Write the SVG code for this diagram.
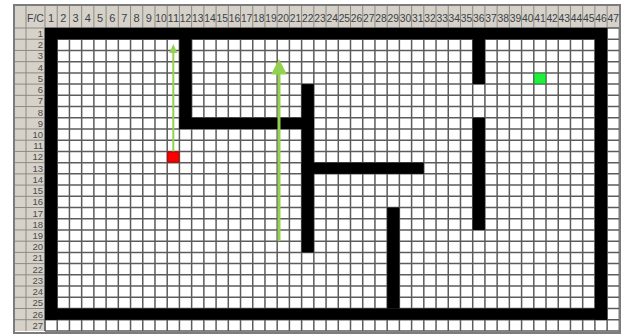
<svg xmlns="http://www.w3.org/2000/svg" width="621" height="336" viewBox="0 0 621 336">
<defs>
<style>
.hdr{fill:#d6d2ca}
.sep{stroke:#8e8a82;stroke-width:1;fill:none}
.grid{stroke:#5c5c5c;stroke-width:1.5;fill:none}
.wall{fill:#000}
.ch{font-family:"Liberation Sans",Arial,sans-serif;font-size:11px;fill:#3a3f48;text-anchor:middle}
.rh{font-family:"Liberation Sans",Arial,sans-serif;font-size:9.5px;fill:#4a4a4a;text-anchor:end}
.arrow{stroke:#92d050;fill:none}
.head{fill:#92d050}
</style>
</defs>
<rect x="0" y="0" width="621" height="336" fill="#ffffff"/>
<g id="header">
<rect class="hdr" x="15" y="6" width="605" height="22"/>
<rect class="hdr" x="15" y="6" width="30" height="325"/>
<path class="sep" d="M26,6V331 M45,6V331 M57.22,6V28 M69.44,6V28 M81.66,6V28 M93.88,6V28 M106.1,6V28 M118.32,6V28 M130.54,6V28 M142.76,6V28 M154.98,6V28 M167.2,6V28 M179.42,6V28 M191.64,6V28 M203.86,6V28 M216.08,6V28 M228.3,6V28 M240.52,6V28 M252.74,6V28 M264.96,6V28 M277.18,6V28 M289.4,6V28 M301.62,6V28 M313.84,6V28 M326.06,6V28 M338.28,6V28 M350.5,6V28 M362.72,6V28 M374.94,6V28 M387.16,6V28 M399.38,6V28 M411.6,6V28 M423.82,6V28 M436.04,6V28 M448.26,6V28 M460.48,6V28 M472.7,6V28 M484.92,6V28 M497.14,6V28 M509.36,6V28 M521.58,6V28 M533.8,6V28 M546.02,6V28 M558.24,6V28 M570.46,6V28 M582.68,6V28 M594.9,6V28 M607.12,6V28 M15,28H45 M15,39.22H45 M15,50.44H45 M15,61.66H45 M15,72.88H45 M15,84.1H45 M15,95.32H45 M15,106.54H45 M15,117.76H45 M15,128.98H45 M15,140.2H45 M15,151.42H45 M15,162.64H45 M15,173.86H45 M15,185.08H45 M15,196.3H45 M15,207.52H45 M15,218.74H45 M15,229.96H45 M15,241.18H45 M15,252.4H45 M15,263.62H45 M15,274.84H45 M15,286.06H45 M15,297.28H45 M15,308.5H45 M15,319.72H45"/>
<text class="ch" x="35.5" y="21.5" textLength="17" lengthAdjust="spacingAndGlyphs">F/C</text>
<text class="ch" x="51.11" y="21.5">1</text>
<text class="ch" x="63.33" y="21.5">2</text>
<text class="ch" x="75.55" y="21.5">3</text>
<text class="ch" x="87.77" y="21.5">4</text>
<text class="ch" x="99.99" y="21.5">5</text>
<text class="ch" x="112.21" y="21.5">6</text>
<text class="ch" x="124.43" y="21.5">7</text>
<text class="ch" x="136.65" y="21.5">8</text>
<text class="ch" x="148.87" y="21.5">9</text>
<g lengthAdjust="spacingAndGlyphs">
<text class="ch" x="161.09" y="21.5" textLength="11.5" lengthAdjust="spacingAndGlyphs">10</text>
<text class="ch" x="173.31" y="21.5" textLength="11.5" lengthAdjust="spacingAndGlyphs">11</text>
<text class="ch" x="185.53" y="21.5" textLength="11.5" lengthAdjust="spacingAndGlyphs">12</text>
<text class="ch" x="197.75" y="21.5" textLength="11.5" lengthAdjust="spacingAndGlyphs">13</text>
<text class="ch" x="209.97" y="21.5" textLength="11.5" lengthAdjust="spacingAndGlyphs">14</text>
<text class="ch" x="222.19" y="21.5" textLength="11.5" lengthAdjust="spacingAndGlyphs">15</text>
<text class="ch" x="234.41" y="21.5" textLength="11.5" lengthAdjust="spacingAndGlyphs">16</text>
<text class="ch" x="246.63" y="21.5" textLength="11.5" lengthAdjust="spacingAndGlyphs">17</text>
<text class="ch" x="258.85" y="21.5" textLength="11.5" lengthAdjust="spacingAndGlyphs">18</text>
<text class="ch" x="271.07" y="21.5" textLength="11.5" lengthAdjust="spacingAndGlyphs">19</text>
<text class="ch" x="283.29" y="21.5" textLength="11.5" lengthAdjust="spacingAndGlyphs">20</text>
<text class="ch" x="295.51" y="21.5" textLength="11.5" lengthAdjust="spacingAndGlyphs">21</text>
<text class="ch" x="307.73" y="21.5" textLength="11.5" lengthAdjust="spacingAndGlyphs">22</text>
<text class="ch" x="319.95" y="21.5" textLength="11.5" lengthAdjust="spacingAndGlyphs">23</text>
<text class="ch" x="332.17" y="21.5" textLength="11.5" lengthAdjust="spacingAndGlyphs">24</text>
<text class="ch" x="344.39" y="21.5" textLength="11.5" lengthAdjust="spacingAndGlyphs">25</text>
<text class="ch" x="356.61" y="21.5" textLength="11.5" lengthAdjust="spacingAndGlyphs">26</text>
<text class="ch" x="368.83" y="21.5" textLength="11.5" lengthAdjust="spacingAndGlyphs">27</text>
<text class="ch" x="381.05" y="21.5" textLength="11.5" lengthAdjust="spacingAndGlyphs">28</text>
<text class="ch" x="393.27" y="21.5" textLength="11.5" lengthAdjust="spacingAndGlyphs">29</text>
<text class="ch" x="405.49" y="21.5" textLength="11.5" lengthAdjust="spacingAndGlyphs">30</text>
<text class="ch" x="417.71" y="21.5" textLength="11.5" lengthAdjust="spacingAndGlyphs">31</text>
<text class="ch" x="429.93" y="21.5" textLength="11.5" lengthAdjust="spacingAndGlyphs">32</text>
<text class="ch" x="442.15" y="21.5" textLength="11.5" lengthAdjust="spacingAndGlyphs">33</text>
<text class="ch" x="454.37" y="21.5" textLength="11.5" lengthAdjust="spacingAndGlyphs">34</text>
<text class="ch" x="466.59" y="21.5" textLength="11.5" lengthAdjust="spacingAndGlyphs">35</text>
<text class="ch" x="478.81" y="21.5" textLength="11.5" lengthAdjust="spacingAndGlyphs">36</text>
<text class="ch" x="491.03" y="21.5" textLength="11.5" lengthAdjust="spacingAndGlyphs">37</text>
<text class="ch" x="503.25" y="21.5" textLength="11.5" lengthAdjust="spacingAndGlyphs">38</text>
<text class="ch" x="515.47" y="21.5" textLength="11.5" lengthAdjust="spacingAndGlyphs">39</text>
<text class="ch" x="527.69" y="21.5" textLength="11.5" lengthAdjust="spacingAndGlyphs">40</text>
<text class="ch" x="539.91" y="21.5" textLength="11.5" lengthAdjust="spacingAndGlyphs">41</text>
<text class="ch" x="552.13" y="21.5" textLength="11.5" lengthAdjust="spacingAndGlyphs">42</text>
<text class="ch" x="564.35" y="21.5" textLength="11.5" lengthAdjust="spacingAndGlyphs">43</text>
<text class="ch" x="576.57" y="21.5" textLength="11.5" lengthAdjust="spacingAndGlyphs">44</text>
<text class="ch" x="588.79" y="21.5" textLength="11.5" lengthAdjust="spacingAndGlyphs">45</text>
<text class="ch" x="601.01" y="21.5" textLength="11.5" lengthAdjust="spacingAndGlyphs">46</text>
<text class="ch" x="613.23" y="21.5" textLength="11.5" lengthAdjust="spacingAndGlyphs">47</text>
</g>
<text class="rh" x="43" y="37">1</text>
<text class="rh" x="43" y="48.2">2</text>
<text class="rh" x="43" y="59.4">3</text>
<text class="rh" x="43" y="70.7">4</text>
<text class="rh" x="43" y="81.9">5</text>
<text class="rh" x="43" y="93.1">6</text>
<text class="rh" x="43" y="104.3">7</text>
<text class="rh" x="43" y="115.5">8</text>
<text class="rh" x="43" y="126.8">9</text>
<text class="rh" x="43" y="138">10</text>
<text class="rh" x="43" y="149.2">11</text>
<text class="rh" x="43" y="160.4">12</text>
<text class="rh" x="43" y="171.6">13</text>
<text class="rh" x="43" y="182.9">14</text>
<text class="rh" x="43" y="194.1">15</text>
<text class="rh" x="43" y="205.3">16</text>
<text class="rh" x="43" y="216.5">17</text>
<text class="rh" x="43" y="227.7">18</text>
<text class="rh" x="43" y="239">19</text>
<text class="rh" x="43" y="250.2">20</text>
<text class="rh" x="43" y="261.4">21</text>
<text class="rh" x="43" y="272.6">22</text>
<text class="rh" x="43" y="283.8">23</text>
<text class="rh" x="43" y="295.1">24</text>
<text class="rh" x="43" y="306.3">25</text>
<text class="rh" x="43" y="317.5">26</text>
<text class="rh" x="43" y="328.7">27</text>
</g>
<g id="grid">
<path class="grid" d="M45,28V331 M57.22,28V331 M69.44,28V331 M81.66,28V331 M93.88,28V331 M106.1,28V331 M118.32,28V331 M130.54,28V331 M142.76,28V331 M154.98,28V331 M167.2,28V331 M179.42,28V331 M191.64,28V331 M203.86,28V331 M216.08,28V331 M228.3,28V331 M240.52,28V331 M252.74,28V331 M264.96,28V331 M277.18,28V331 M289.4,28V331 M301.62,28V331 M313.84,28V331 M326.06,28V331 M338.28,28V331 M350.5,28V331 M362.72,28V331 M374.94,28V331 M387.16,28V331 M399.38,28V331 M411.6,28V331 M423.82,28V331 M436.04,28V331 M448.26,28V331 M460.48,28V331 M472.7,28V331 M484.92,28V331 M497.14,28V331 M509.36,28V331 M521.58,28V331 M533.8,28V331 M546.02,28V331 M558.24,28V331 M570.46,28V331 M582.68,28V331 M594.9,28V331 M607.12,28V331 M619.34,28V331 M45,28H620 M45,39.22H620 M45,50.44H620 M45,61.66H620 M45,72.88H620 M45,84.1H620 M45,95.32H620 M45,106.54H620 M45,117.76H620 M45,128.98H620 M45,140.2H620 M45,151.42H620 M45,162.64H620 M45,173.86H620 M45,185.08H620 M45,196.3H620 M45,207.52H620 M45,218.74H620 M45,229.96H620 M45,241.18H620 M45,252.4H620 M45,263.62H620 M45,274.84H620 M45,286.06H620 M45,297.28H620 M45,308.5H620 M45,319.72H620 M45,330.94H620"/>
</g>
<g id="walls">
<rect class="wall" x="45" y="28" width="562.12" height="11.22"/>
<rect class="wall" x="45" y="28" width="12.22" height="291.72"/>
<rect class="wall" x="45" y="308.5" width="562.12" height="11.22"/>
<rect class="wall" x="594.9" y="28" width="12.22" height="291.72"/>
<rect class="wall" x="179.42" y="28" width="12.22" height="100.98"/>
<rect class="wall" x="179.42" y="117.76" width="134.42" height="11.22"/>
<rect class="wall" x="301.62" y="84.1" width="12.22" height="168.3"/>
<rect class="wall" x="301.62" y="162.64" width="122.2" height="11.22"/>
<rect class="wall" x="387.16" y="207.52" width="12.22" height="100.98"/>
<rect class="wall" x="472.7" y="28" width="12.22" height="56.1"/>
<rect class="wall" x="472.7" y="117.76" width="12.22" height="112.2"/>
</g>
<g id="start">
<rect x="167.7" y="151.9" width="11.2" height="10.2" fill="#ff0000" stroke="#b00000" stroke-width="1"/>
</g>
<g id="goal">
<rect x="534.3" y="73.4" width="11.2" height="10.2" fill="#1ef03c" stroke="#12b82c" stroke-width="0.8"/>
</g>
<g id="connectors">
<path class="arrow" stroke-width="2" d="M173.3,151.4V52"/>
<polygon class="head" points="173.3,44 169.3,53 177.3,53"/>
<path class="arrow" stroke-width="3" d="M279,241.2V72"/>
<polygon class="head" points="279,59 271,74.5 287,74.5"/>
</g>
<rect x="14" y="5" width="606" height="328" fill="none" stroke="#7c7c7c" stroke-width="2"/>
</svg>
